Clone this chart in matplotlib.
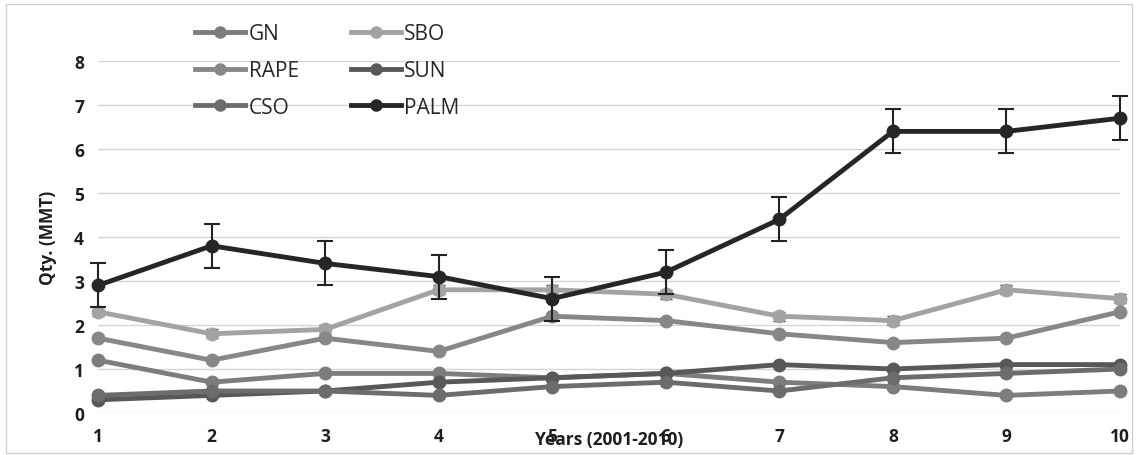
import numpy as np
import matplotlib
matplotlib.use("Agg")
import matplotlib.pyplot as plt
from matplotlib.patches import Rectangle

plt.rcParams['font.family'] = ['Open Sans', 'DejaVu Sans']

# data
years = [1, 2, 3, 4, 5, 6, 7, 8, 9, 10]
gn   = [1.2, 0.7, 0.9, 0.9, 0.8, 0.9, 0.7, 0.6, 0.4, 0.5]
sbo  = [2.3, 1.8, 1.9, 2.8, 2.8, 2.7, 2.2, 2.1, 2.8, 2.6]
rape = [1.7, 1.2, 1.7, 1.4, 2.2, 2.1, 1.8, 1.6, 1.7, 2.3]
sun  = [0.3, 0.4, 0.5, 0.7, 0.8, 0.9, 1.1, 1.0, 1.1, 1.1]
cso  = [0.4, 0.5, 0.5, 0.4, 0.6, 0.7, 0.5, 0.8, 0.9, 1.0]
palm = [2.9, 3.8, 3.4, 3.1, 2.6, 3.2, 4.4, 6.4, 6.4, 6.7]
palm_err = [0.5] * 10
sbo_err = [0.1] * 10

fig = plt.figure(figsize=(11.38, 4.56), dpi=100)
ax = fig.add_axes([98/1138, 1 - 414/456, (1120-98)/1138, (414-62)/456])

# outer chart border
fig.patches.append(Rectangle((0.005, 0.005), 0.99, 0.985, transform=fig.transFigure,
                             fill=False, edgecolor='#d0d0d0', linewidth=1))

kw = dict(marker='o', markersize=9, linewidth=3.5, clip_on=False)
h_gn, = ax.plot(years, gn, color='#7d7d7d', zorder=3, **kw)
ax.errorbar(years, sbo, yerr=sbo_err, fmt='none', ecolor='#333333',
            elinewidth=1, capsize=4, zorder=2, clip_on=False)
h_sbo, = ax.plot(years, sbo, color='#a3a3a3', zorder=3, **kw)
h_rape, = ax.plot(years, rape, color='#878787', zorder=4, **kw)
h_sun, = ax.plot(years, sun, color='#585858', zorder=4, **kw)
h_cso, = ax.plot(years, cso, color='#6c6c6c', zorder=4, **kw)
ax.errorbar(years, palm, yerr=palm_err, fmt='none', ecolor='#222222',
            elinewidth=1.5, capsize=6, capthick=1.5, zorder=5, clip_on=False)
h_palm, = ax.plot(years, palm, color='#262626', zorder=6, **kw)

ax.set_xlim(1, 10)
ax.set_ylim(0, 8)
ax.set_xticks(years)
ax.set_yticks(range(0, 9))
ax.tick_params(length=0, labelsize=12.5, pad=10)
for lab in ax.get_xticklabels() + ax.get_yticklabels():
    lab.set_fontweight('bold')
    lab.set_color('#1e1e1e')
ax.grid(axis='y', color='#d4d4d4', linewidth=1)
ax.set_axisbelow(True)
for s in ax.spines.values():
    s.set_visible(False)

ax.set_ylabel('Qty. (MMT)', fontsize=12.5, fontweight='bold', color='#1e1e1e', labelpad=12)
# axis title sits on the tick row, overlapping labels 5 and 6 as in the source
fig.text(ax.transData.transform((5.5, 0))[0] / 1138, 1 - 440/456, 'Years (2001-2010)',
         ha='center', va='center', fontsize=12.5, fontweight='bold', color='#1e1e1e')

leg = fig.legend([h_gn, h_rape, h_cso, h_sbo, h_sun, h_palm],
                 ['GN', 'RAPE', 'CSO', 'SBO', 'SUN', 'PALM'],
                 ncol=2, loc='upper left', bbox_to_anchor=(185/1138, 1 - 14/456),
                 frameon=False, fontsize=15, handlelength=2.4, handletextpad=0.15,
                 labelspacing=0.75, columnspacing=2.5, borderpad=0)
for t in leg.get_texts():
    t.set_color('#262626')
for h in leg.legend_handles:
    h.set_markersize(8)

fig.savefig('out.png', dpi=100)
